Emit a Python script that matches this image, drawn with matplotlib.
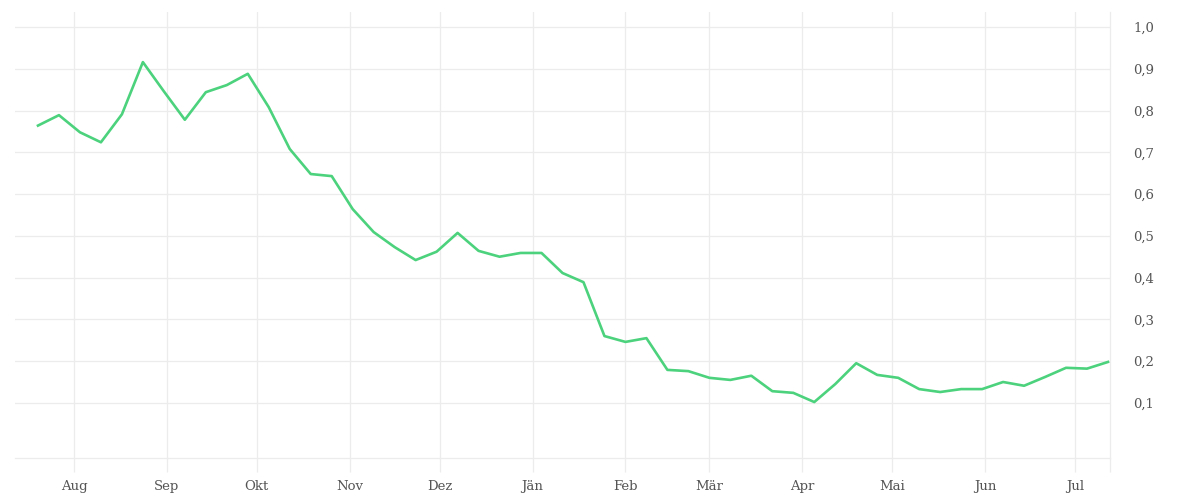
import matplotlib
matplotlib.use("Agg")
import matplotlib.pyplot as plt
import pandas as pd

# weekly values, mid July to mid July
start = "2022-07-20"
values = [0.764, 0.789, 0.748, 0.724, 0.791, 0.916, 0.846, 0.778, 0.844, 0.861,
          0.888, 0.808, 0.708, 0.648, 0.643, 0.564, 0.509, 0.473, 0.442, 0.462,
          0.507, 0.464, 0.450, 0.459, 0.459, 0.411, 0.389, 0.260, 0.246, 0.255,
          0.179, 0.176, 0.160, 0.155, 0.165, 0.128, 0.124, 0.102, 0.145, 0.195,
          0.167, 0.160, 0.133, 0.126, 0.133, 0.133, 0.150, 0.141, 0.162, 0.184,
          0.182, 0.198]
dates = pd.date_range(start, periods=len(values), freq="7D")

month_ticks = pd.date_range("2022-08-01", "2023-07-01", freq="MS")
month_labels = ["Aug", "Sep", "Okt", "Nov", "Dez", "Jän", "Feb", "Mär",
                "Apr", "Mai", "Jun", "Jul"]
y_ticks = [0.1, 0.2, 0.3, 0.4, 0.5, 0.6, 0.7, 0.8, 0.9, 1.0]
y_labels = [f"{v:.1f}".replace(".", ",") for v in y_ticks]

grid_col = "#ececec"
text_col = "#555555"

fig = plt.figure(figsize=(12, 5), dpi=100)
ax = fig.add_axes([0.0125, 0.084, 0.9125, 0.892])

ax.plot(dates, values, color="#4cd27c", linewidth=1.9)

x_left = pd.Timestamp("2022-07-12 08:00")
x_right = pd.Timestamp("2023-07-12 16:00")
ax.set_xlim(x_left, x_right)
ax.set_ylim(-0.032, 1.036)

ax.set_xticks(month_ticks)
ax.set_xticklabels(month_labels)
ax.set_xticks([x_right], minor=True)
ax.set_yticks(y_ticks)
ax.set_yticklabels(y_labels)
ax.yaxis.tick_right()

ax.grid(True, which="major", color=grid_col, linewidth=0.9)
ax.set_axisbelow(True)

for s in ["top", "left"]:
    ax.spines[s].set_visible(False)
for s in ["bottom", "right"]:
    ax.spines[s].set_color(grid_col)
    ax.spines[s].set_linewidth(0.9)

ax.tick_params(axis="x", which="both", length=10, width=0.9, color=grid_col, pad=6,
               labelsize=9.5, labelcolor=text_col)
ax.tick_params(axis="y", length=0, pad=17, labelsize=9.5, labelcolor=text_col)
for lab in ax.get_xticklabels() + ax.get_yticklabels():
    lab.set_fontfamily("DejaVu Serif")

fig.savefig("out.png", dpi=100)
